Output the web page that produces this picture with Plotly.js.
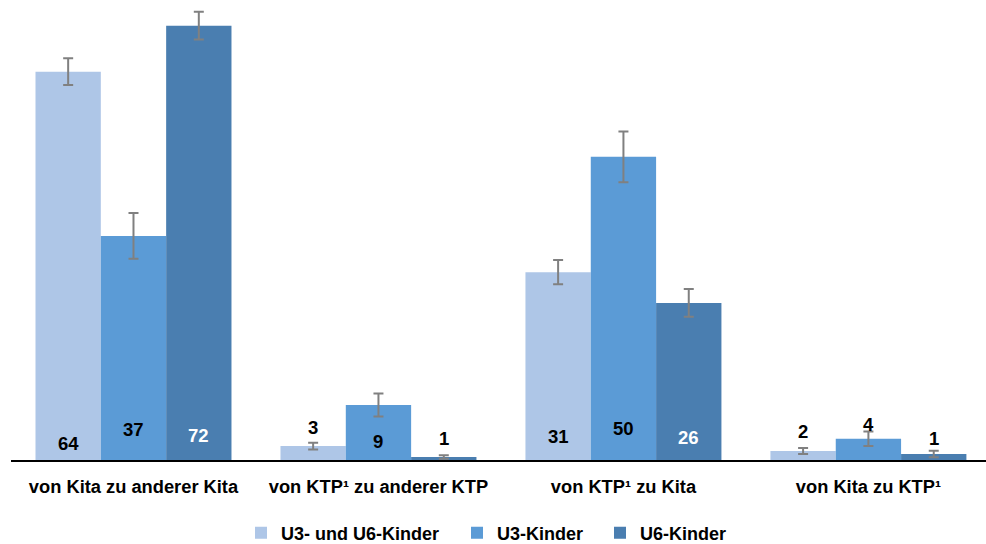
<!DOCTYPE html>
<html>
<head>
<meta charset="utf-8">
<script src="https://cdn.plot.ly/plotly-3.0.1.min.js"></script>
<style>html,body{margin:0;padding:0;background:#fff;}#chart{width:986px;height:544px;}</style>
</head>
<body>
<div id="chart"></div>
<script>
const categories = ["von Kita zu anderer Kita", "von KTP¹ zu anderer KTP", "von KTP¹ zu Kita", "von Kita zu KTP¹"];
const seriesNames = ["U3- und U6-Kinder", "U3-Kinder", "U6-Kinder"];
// bar heights
const valuesAll = [64.3, 2.3, 31.1, 1.5];
const valuesU3 = [37.1, 9.1, 50.2, 3.5];
const valuesU6 = [71.9, 0.5, 26.0, 1.0];
// printed (rounded) labels
const labelsAll = ["64", "3", "31", "2"];
const labelsU3 = ["37", "9", "50", "4"];
const labelsU6 = ["72", "1", "26", "1"];
const errAll = [2.2, 0.55, 2.0, 0.5];
const errU3 = [3.8, 1.9, 4.2, 1.2];
const errU6 = [2.3, 0.3, 2.3, 0.55];

const colors = ["#aec6e7", "#5b9bd6", "#4a7eb0"];
const labelColors = [["#000","#000","#000","#000"],["#000","#000","#000","#000"],["#fff","#000","#fff","#000"]];
// vertical pixel offset of each label centre above the baseline
const labelShift = [[17, 33, 24, 29],[31, 19, 32, 36],[25, 22, 23, 22]];
// legend entry positions (text start, px from left)
const legendTextX = [281, 497, 640];

const values = [valuesAll, valuesU3, valuesU6];
const labels = [labelsAll, labelsU3, labelsU6];
const errs = [errAll, errU3, errU6];
const FONT = "Liberation Sans, Arial, sans-serif";
const legendKeys = ["legend", "legend2", "legend3"];

const traces = values.map((v, i) => ({
  type: "bar",
  name: seriesNames[i],
  x: categories,
  y: v,
  legend: legendKeys[i],
  marker: {color: colors[i]},
  error_y: {type: "data", array: errs[i], visible: true, color: "#808080", thickness: 2, width: 5},
  hoverinfo: "skip"
}));

const annotations = [];
const barW = 0.8 / 3;
labels.forEach((lab, i) => {
  lab.forEach((t, j) => {
    annotations.push({
      x: j + (i - 1) * barW,
      y: 0,
      xref: "x", yref: "y",
      text: t,
      showarrow: false,
      yanchor: "middle",
      yshift: labelShift[i][j],
      font: {family: FONT, size: 18.5, color: labelColors[i][j], weight: "bold"}
    });
  });
});

const layout = {
  width: 986, height: 544,
  margin: {l: 11, r: 0, t: 7, b: 84, autoexpand: false},
  paper_bgcolor: "#fff", plot_bgcolor: "#fff",
  barmode: "group",
  bargap: 0.2,
  bargroupgap: 0,
  font: {family: FONT, size: 18, color: "#000", weight: "bold"},
  xaxis: {
    type: "category",
    range: [-0.5, 3.48],
    showline: true, linecolor: "#000", linewidth: 2,
    ticks: "", showgrid: false, zeroline: false,
    tickfont: {family: FONT, size: 18.3, color: "#000", weight: "bold"},
    ticklabelstandoff: 9
  },
  yaxis: {
    range: [0, 75],
    visible: false, showgrid: false, zeroline: false
  },
  showlegend: true,
  annotations: annotations
};
legendKeys.forEach((k, i) => {
  layout[k] = {
    orientation: "h",
    xref: "container", yref: "container",
    x: (legendTextX[i] - 40) / 986, xanchor: "left",
    y: 11 / 544, yanchor: "middle",
    font: {family: FONT, size: 18, color: "#000", weight: "bold"},
    itemwidth: 30,
    bgcolor: "rgba(0,0,0,0)"
  };
});

Plotly.newPlot("chart", traces, layout, {staticPlot: true, displayModeBar: false});
</script>
</body>
</html>
